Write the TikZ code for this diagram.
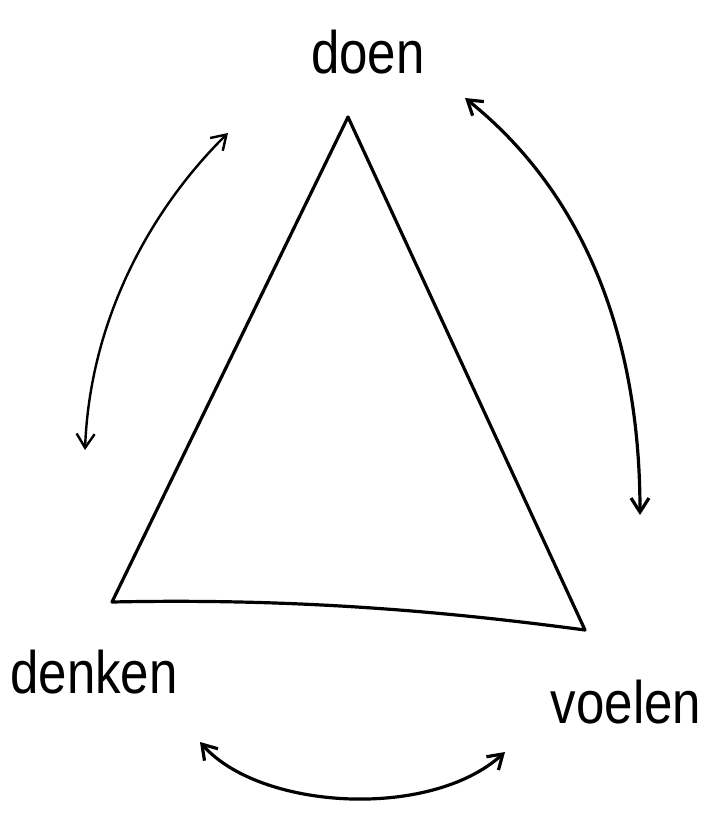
\documentclass[tikz,border=0pt]{standalone}
\usepackage{fontspec}
\usepackage{graphicx}
\setmainfont{Liberation Sans}
\usetikzlibrary{arrows.meta}
\newcommand{\hand}[1]{\scalebox{0.85}[1]{#1}}
\begin{document}
\begin{tikzpicture}[x=0.5pt,y=-0.5pt,
  edge/.style={line width=1.6pt,line join=round,line cap=round},
  twoway/.style={line width=1.2pt,{Straight Barb[length=7pt,width=9pt]}-{Straight Barb[length=7pt,width=9pt]}},
  lbl/.style={font=\fontsize{30}{34}\selectfont,inner sep=0pt}]
\useasboundingbox (0,0) rectangle (724,816);
\coordinate (top) at (348,117);
\coordinate (bl) at (112,602);
\coordinate (br) at (585,630);
\draw[edge] (top) -- (bl) .. controls (300,598) and (450,612) .. (br) -- cycle;
\node[lbl] (doen) at (368,52) {\hand{doen}};
\node[lbl] (denken) at (94,672) {\hand{denken}};
\node[lbl] (voelen) at (626,702) {\hand{voelen}};
\coordinate (l1) at (228,133);
\coordinate (l2) at (85,450);
\coordinate (r1) at (465,98);
\coordinate (r2) at (640,515);
\coordinate (b1) at (200,742);
\coordinate (b2) at (505,752);
\draw[twoway] (l1) .. controls (150,210) and (90,320) .. (l2);
\draw[twoway,line width=1.6pt] (r1) .. controls (580,190) and (640,330) .. (r2);
\draw[twoway,line width=1.6pt] (b1) .. controls (260,810) and (430,820) .. (b2);
\end{tikzpicture}
\end{document}
